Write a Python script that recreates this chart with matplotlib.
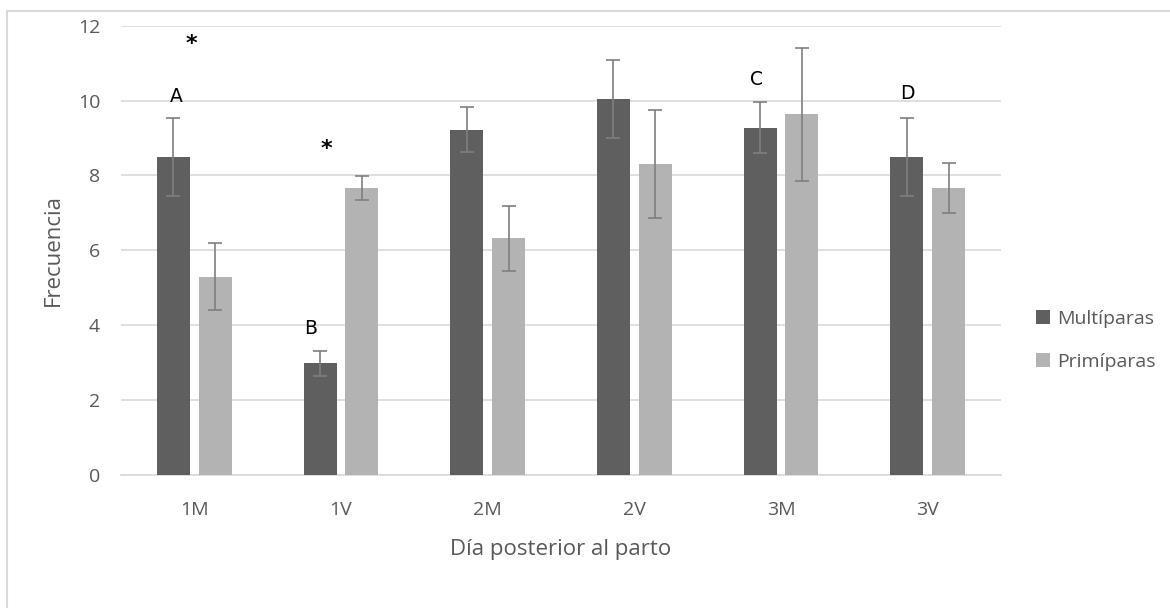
import numpy as np
import matplotlib.pyplot as plt
from matplotlib.patches import Rectangle

plt.rcParams['font.family'] = ['Open Sans', 'DejaVu Sans']

dias = ["1M", "1V", "2M", "2V", "3M", "3V"]
multiparas = [8.5, 2.98, 9.22, 10.04, 9.28, 8.5]
multiparas_err = [1.04, 0.33, 0.6, 1.04, 0.68, 1.04]
primiparas = [5.3, 7.66, 6.32, 8.31, 9.63, 7.66]
primiparas_err = [0.89, 0.32, 0.87, 1.45, 1.77, 0.66]

# letras de significancia sobre las barras de multíparas: (letra, x, y)
letras = [("A", -0.12, 10.1), ("B", 0.79, 3.9),
          ("C", 3.83, 10.55), ("D", 4.86, 10.2)]
# asteriscos de diferencia entre grupos: (x, y)
asteriscos = [(-0.02, 11.5), (0.9, 8.7)]

gris_texto = "#595959"
x = np.arange(len(dias))
ancho = 0.225
desp = 0.1425

fig = plt.figure(figsize=(11.7, 6.08), dpi=100)
fig.patches.append(Rectangle((7 / 1170, -0.1), 1.2, (608 - 11) / 608 + 0.1,
                             transform=fig.transFigure, fill=False,
                             edgecolor="#d9d9d9", linewidth=1.5))
ax = fig.add_axes([121 / 1170, 1 - 475 / 608, 880 / 1170, 449.3 / 608])

err_kw = dict(ecolor="#7f7f7f", elinewidth=1.2, capsize=5, capthick=1.2)
ax.bar(x - desp, multiparas, ancho, yerr=multiparas_err, color="#5f5f5f",
       label="Multíparas", error_kw=err_kw, zorder=3)
ax.bar(x + desp, primiparas, ancho, yerr=primiparas_err, color="#b3b3b3",
       label="Primíparas", error_kw=err_kw, zorder=3)

for letra, lx, ly in letras:
    ax.text(lx, ly, letra, ha="center", va="center", fontsize=13.5,
            color="black", fontfamily="DejaVu Sans")
for ax_x, ax_y in asteriscos:
    ax.text(ax_x, ax_y, "*", ha="center", va="center", fontsize=16,
            color="black", fontweight="bold", fontfamily="DejaVu Sans")

ax.set_xlim(-0.5, len(dias) - 0.5)
ax.set_ylim(0, 12)
ax.set_yticks(range(0, 13, 2))
ax.set_xticks(x)
ax.set_xticklabels(dias)
ax.grid(axis="y", color="#d9d9d9", linewidth=1.2, zorder=0)
for lado in ["top", "right", "left"]:
    ax.spines[lado].set_visible(False)
ax.spines["bottom"].set_color("#d9d9d9")
ax.spines["bottom"].set_linewidth(1.2)
ax.tick_params(length=0, labelsize=14, labelcolor=gris_texto)
ax.tick_params(axis="x", pad=19)
ax.tick_params(axis="y", pad=15)

ax.set_xlabel("Día posterior al parto", fontsize=16, color=gris_texto, labelpad=14)
ax.set_ylabel("Frecuencia", fontsize=16, color=gris_texto, labelpad=10)

ax.legend(loc="center left", bbox_to_anchor=(1.02, 0.3), frameon=False,
          fontsize=14, labelcolor=gris_texto, handlelength=0.7, handleheight=0.7,
          handletextpad=0.4, labelspacing=1.3)

fig.savefig("out.png", dpi=100)
